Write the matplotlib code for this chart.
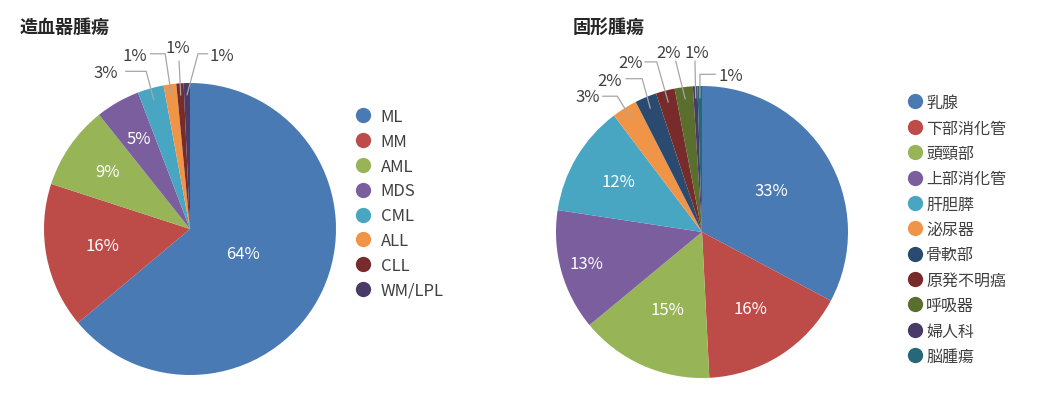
import matplotlib
matplotlib.use("Agg")
import matplotlib.pyplot as plt
from matplotlib.lines import Line2D
import numpy as np

plt.rcParams["font.family"] = ["Noto Sans CJK JP", "DejaVu Sans"]

# --- data ------------------------------------------------------------------
heme_title = "造血器腫瘍"
heme_labels = ["ML", "MM", "AML", "MDS", "CML", "ALL", "CLL", "WM/LPL"]
heme_values = [63.9, 16.1, 9.3, 4.9, 2.9, 1.4, 0.8, 0.7]
heme_pct = ["64%", "16%", "9%", "5%", "3%", "1%", "1%", "1%"]

solid_title = "固形腫瘍"
solid_labels = ["乳腺", "下部消化管", "頭頸部", "上部消化管", "肝胆膵", "泌尿器",
                "骨軟部", "原発不明癌", "呼吸器", "婦人科", "脳腫瘍"]
solid_values = [32.8, 16.4, 14.8, 13.4, 12.3, 2.8, 2.4, 2.1, 2.0, 0.5, 0.5]
solid_pct = ["33%", "16%", "15%", "13%", "12%", "3%", "2%", "2%", "2%", "1%", "1%"]

heme_colors = ["#4A7AB4", "#BD4B48", "#97B557", "#7B5E9E", "#48A6C2",
               "#F09548", "#772B2A", "#4A3A68"]
solid_colors = ["#4A7AB4", "#BD4B48", "#97B557", "#7B5E9E", "#48A6C2",
                "#F09548", "#2B4A70", "#772B2A", "#5A6F2E", "#4A3A68", "#266778"]

# --- label layout (pie radius units) ---------------------------------------
heme_inside_r = {0: 0.40, 1: 0.61, 2: 0.69, 3: 0.71}
# index: (text position, elbow, start of the leader line)
heme_outside = {
    4: ((-0.58, 1.075), (-0.30, 1.08), (-0.44, 1.08)),
    5: ((-0.377, 1.19), (-0.17, 1.20), (-0.27, 1.20)),
    6: ((-0.082, 1.24), (-0.075, 1.15), (-0.075, 1.15)),
    7: ((0.22, 1.185), (0.055, 1.20), (0.12, 1.20)),
}
solid_inside_r = {0: 0.55, 1: 0.62, 2: 0.58, 3: 0.82, 4: 0.67}
solid_outside = {
    5: ((-0.78, 0.925), (-0.58, 0.93), (-0.68, 0.93)),
    6: ((-0.63, 1.04), (-0.41, 1.05), (-0.52, 1.05)),
    7: ((-0.49, 1.16), (-0.31, 1.165), (-0.39, 1.165)),
    8: ((-0.23, 1.23), (-0.18, 1.17), (-0.18, 1.17)),
    9: ((-0.034, 1.23), (-0.048, 1.17), (-0.048, 1.17)),
    10: ((0.2, 1.07), (-0.014, 1.08), (0.09, 1.08)),
}

W, H = 1058, 414
R = 146  # pie radius in pixels
TEXT = "#404040"
LEADER = "#A6A6A6"


def pie_axes(fig, cx, cy):
    # axes sized so that the default pie limits (+-1.25) give radius R
    s = 1.25 * R
    return fig.add_axes([(cx - s) / W, (H - cy - s) / H, 2 * s / W, 2 * s / H])


def draw_pie(ax, values, colors, pct, inside_r, outside):
    wedges, _ = ax.pie(values, colors=colors, startangle=90, counterclock=False,
                       wedgeprops=dict(linewidth=0))
    for i, w in enumerate(wedges):
        mid = np.deg2rad((w.theta1 + w.theta2) / 2)
        if i in inside_r:
            r = inside_r[i]
            ax.text(r * np.cos(mid), r * np.sin(mid), pct[i], color="white",
                    ha="center", va="center", fontsize=12)
        elif i in outside:
            (tx, ty), (ex, ey), (sx, sy) = outside[i]
            ax.text(tx, ty, pct[i], color=TEXT, ha="center", va="center",
                    fontsize=12, clip_on=False)
            px, py = 0.92 * np.cos(mid), 0.92 * np.sin(mid)
            ax.plot([sx, ex, px], [sy, ey, py], color=LEADER, linewidth=0.9,
                    clip_on=False)
    return wedges


def add_legend(fig, labels, colors, x, y, size, spacing, textpad):
    handles = [Line2D([], [], linestyle="none", marker="o", markersize=11,
                      markerfacecolor=c, markeredgewidth=0) for c in colors]
    fig.legend(handles, labels, loc="upper left", bbox_to_anchor=(x / W, 1 - y / H),
               frameon=False, fontsize=size, labelcolor=TEXT, borderpad=0,
               borderaxespad=0, handlelength=1.0, handletextpad=textpad,
               labelspacing=spacing)


fig = plt.figure(figsize=(W / 100, H / 100), dpi=100)

ax1 = pie_axes(fig, 190, 230)
draw_pie(ax1, heme_values, heme_colors, heme_pct, heme_inside_r, heme_outside)
ax2 = pie_axes(fig, 702, 233)
draw_pie(ax2, solid_values, solid_colors, solid_pct, solid_inside_r, solid_outside)

fig.text(20 / W, 1 - 27 / H, heme_title, fontsize=13, fontweight="bold",
         color="#262626", va="center", ha="left")
fig.text(573 / W, 1 - 27 / H, solid_title, fontsize=13, fontweight="bold",
         color="#262626", va="center", ha="left")

add_legend(fig, heme_labels, heme_colors, 355, 109, 12, 0.47, 0.55)
add_legend(fig, solid_labels, solid_colors, 907, 95, 11.5, 0.525, 0.2)

fig.savefig("out.png", dpi=100)
